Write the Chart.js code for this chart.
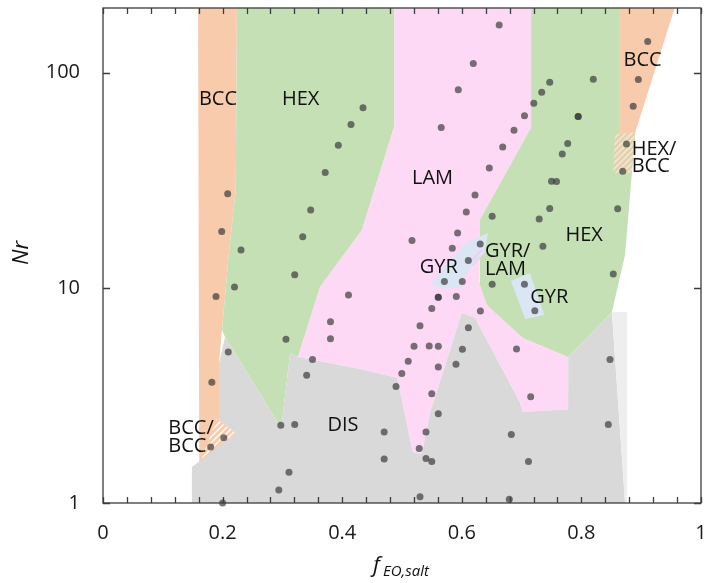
<!DOCTYPE html>
<html>
<head>
<meta charset="utf-8">
<script src="https://cdn.jsdelivr.net/npm/chart.js@4"></script>
<style>
  html, body { margin: 0; padding: 0; background: #fff; }
  #wrap { width: 705px; height: 583px; }
</style>
</head>
<body>
<div id="wrap"><canvas id="phase" width="705" height="583"></canvas></div>
<script>
// Phase regions, corners as [f_EO,salt, Nr]
const bccLeft = [[0.159,200],[0.224,200],[0.222,28.6],[0.211,15.0],[0.199,6.37],[0.194,4.47],[0.194,2.45],[0.222,2.11],[0.164,1.55],[0.161,1.55]];
const hexLeft = [[0.224,200],[0.487,200],[0.487,56.2],[0.433,18.6],[0.363,10.1],[0.326,4.77],[0.313,4.98],[0.298,2.23],[0.204,5.91],[0.199,6.37],[0.211,15.0],[0.222,28.6]];
const lam = [[0.487,200],[0.716,200],[0.716,55.6],[0.630,20.7],[0.629,10.55],[0.642,8.33],[0.702,5.85],[0.778,4.77],[0.779,2.73],[0.702,2.65],[0.697,2.94],[0.622,7.25],[0.600,7.65],[0.547,2.62],[0.533,1.69],[0.518,1.72],[0.492,3.81],[0.430,4.20],[0.326,4.77],[0.363,10.1],[0.433,18.6],[0.487,56.2]];
const hexRight = [[0.716,200],[0.863,200],[0.863,51.6],[0.890,52.7],[0.873,14.2],[0.851,7.73],[0.778,4.77],[0.702,5.85],[0.642,8.33],[0.629,10.55],[0.630,20.7],[0.716,55.6]];
const bccRight = [[0.863,200],[0.956,200],[0.890,52.7],[0.863,51.6]];
const dis = [[0.1487,1],[0.1487,1.47],[0.222,2.11],[0.194,2.45],[0.194,4.47],[0.204,5.91],[0.298,2.23],[0.313,4.98],[0.326,4.77],[0.430,4.20],[0.492,3.81],[0.518,1.72],[0.533,1.69],[0.547,2.62],[0.600,7.65],[0.622,7.25],[0.697,2.94],[0.702,2.65],[0.779,2.73],[0.778,4.77],[0.851,7.73],[0.873,1]];
const disEdge = [[0.851,7.73],[0.876,7.73],[0.876,1],[0.873,1]];
const hexBcc = [[0.856,51.6],[0.890,52.7],[0.884,34.3],[0.853,34.3]];
const bccBcc = [[0.190,2.45],[0.222,2.12],[0.165,1.61]];
const gyrLeft = [[0.550,10.5],[0.580,13.5],[0.608,16.2],[0.644,18.0],[0.639,15.0],[0.622,13.0],[0.600,10.9],[0.600,9.97],[0.564,9.97]];
const gyrLam = [[0.610,13.1],[0.632,15.2],[0.641,14.7],[0.619,12.7]];
const gyrRight = [[0.682,10.8],[0.714,11.7],[0.738,7.48],[0.706,7.17]];

// Samples [f_EO,salt, Nr]
const samples = [
  [0.2085,27.4],[0.1985,18.3],[0.189,9.13],[0.182,3.64],[0.180,1.82],[0.2308,15.0],[0.2199,10.1],[0.2095,5.03],
  [0.4348,68.7],[0.4147,57.4],[0.3935,46.0],[0.3716,34.4],[0.3473,23.0],[0.334,17.3],[0.3206,11.5],[0.306,5.77],
  [0.2973,2.30],[0.3206,2.32],[0.311,1.39],[0.294,1.15],[0.202,2.01],[0.200,1.0],
  [0.4105,9.26],[0.3804,6.96],[0.3804,5.80],[0.3503,4.65],[0.3406,3.92],
  [0.6625,166.6],[0.6192,110.5],[0.5941,83.3],[0.5656,55.6],[0.6873,54.0],[0.6684,45.2],[0.646,36.1],[0.6221,27.0],
  [0.6075,22.5],[0.6508,21.5],[0.593,18.0],[0.5167,16.6],[0.5841,15.3],[0.6308,16.0],[0.6109,13.4],[0.5709,10.7],
  [0.6008,10.7],[0.6508,10.4],[0.7048,10.4],[0.5607,9.05],[0.5607,9.05],[0.5908,9.11],[0.5498,8.02],[0.6311,7.80],
  [0.7221,7.83],[0.5301,6.67],[0.611,6.52],[0.5201,5.36],[0.5455,5.37],[0.5607,5.36],[0.601,5.18],[0.6915,5.20],
  [0.5104,4.56],[0.5607,4.29],[0.5903,4.41],[0.4997,4.00],[0.49,3.48],[0.5498,3.22],[0.7152,3.12],[0.5607,2.60],
  [0.4702,2.14],[0.5401,2.14],[0.6828,2.08],[0.5288,1.79],[0.4702,1.60],[0.5401,1.61],[0.5498,1.56],[0.7115,1.56],
  [0.5301,1.07],[0.6794,1.04],[0.8478,4.65],[0.845,2.32],[0.8533,11.6],
  [0.8199,93.4],[0.747,90.4],[0.7336,81.1],[0.7204,72.2],[0.7048,63.2],[0.7946,62.6],[0.7946,62.6],[0.7771,46.9],
  [0.768,41.9],[0.75,31.3],[0.7584,31.2],[0.747,23.4],[0.7294,20.9],[0.8607,23.3],[0.7356,15.6],[0.8754,46.7],[0.8691,34.8],
  [0.9109,139.9],[0.8952,93.1],[0.8866,69.9]
];

// Phase names and where they sit [text, f, Nr, align]
const phaseLabels = [
  ['BCC', 0.1923, 75.1, 'center'], ['HEX', 0.3306, 75.0, 'center'], ['LAM', 0.551, 32.3, 'center'],
  ['GYR', 0.5615, 12.4, 'center'], ['GYR/', 0.6388, 14.8, 'left'], ['LAM', 0.6388, 12.2, 'left'],
  ['GYR', 0.7463, 9.06, 'center'], ['HEX', 0.8047, 17.6, 'center'], ['BCC', 0.9022, 113.7, 'center'],
  ['HEX/', 0.8841, 44.3, 'left'], ['BCC', 0.8841, 36.7, 'left'], ['DIS', 0.4013, 2.30, 'center'],
  ['BCC/', 0.1092, 2.22, 'left'], ['BCC', 0.1092, 1.84, 'left']
];

const xTicks = [0, 0.2, 0.4, 0.6, 0.8, 1];
const yTicks = [1, 10, 100];

const canvas = document.getElementById('phase');
const mainCtx = canvas.getContext('2d');

function hatch(bg, fg, w) {
  const c = document.createElement('canvas');
  c.width = c.height = 6;
  const g = c.getContext('2d');
  g.fillStyle = bg;
  g.fillRect(0, 0, 6, 6);
  g.strokeStyle = fg;
  g.lineWidth = w;
  g.beginPath();
  g.moveTo(-1, 7); g.lineTo(7, -1);
  g.moveTo(-4, 4); g.lineTo(4, -4);
  g.moveTo(2, 10); g.lineTo(10, 2);
  g.stroke();
  return mainCtx.createPattern(c, 'repeat');
}

function region(pts, color, order) {
  return {
    data: pts.map(p => ({x: p[0], y: p[1]})),
    showLine: true,
    fill: 'shape',
    backgroundColor: color,
    borderWidth: 0,
    borderColor: 'rgba(0,0,0,0)',
    pointRadius: 0,
    tension: 0,
    order: order
  };
}

// drop the label overhang padding so the plot area sits where the reference has it
function noPad(s) {
  s.paddingTop = 0; s.paddingBottom = 0; s.paddingLeft = 0; s.paddingRight = 0;
}

const overlay = {
  id: 'overlay',
  afterDatasetsDraw(chart) {
    const {ctx, scales: {x, y}} = chart;
    ctx.save();
    ctx.fillStyle = '#111';
    ctx.font = '20px "Open Sans"';
    ctx.textBaseline = 'middle';
    phaseLabels.forEach(([t, fx, ny, al]) => {
      ctx.textAlign = al;
      ctx.fillText(t, x.getPixelForValue(fx), y.getPixelForValue(ny));
    });
    ctx.restore();
  },
  afterDraw(chart) {
    const {ctx, chartArea: a, scales: {x, y}} = chart;
    ctx.save();
    ctx.strokeStyle = '#3c3c3c';
    ctx.lineWidth = 1.3;
    ctx.strokeRect(a.left, a.top, a.right - a.left, a.bottom - a.top);
    ctx.beginPath();
    for (let i = 0; i <= 25; i++) {
      const px = Math.round(x.getPixelForValue(i * 0.04)) + 0.5;
      ctx.moveTo(px, a.bottom); ctx.lineTo(px, a.bottom - 6);
      ctx.moveTo(px, a.top); ctx.lineTo(px, a.top + 6);
    }
    yTicks.forEach(v => {
      const py = Math.round(y.getPixelForValue(v)) + 0.5;
      ctx.moveTo(a.left, py); ctx.lineTo(a.left + 7, py);
      ctx.moveTo(a.right, py); ctx.lineTo(a.right - 7, py);
    });
    ctx.stroke();

    // axis titles
    ctx.fillStyle = '#111';
    ctx.textBaseline = 'alphabetic';
    ctx.textAlign = 'left';
    ctx.font = 'italic 22px "Open Sans"';
    ctx.fillText('f', 373, 572);
    ctx.font = 'italic 15px "Open Sans"';
    ctx.fillText('EO,salt', 383, 576);
    ctx.translate(22, 253);
    ctx.rotate(-Math.PI / 2);
    ctx.textAlign = 'center';
    ctx.textBaseline = 'middle';
    ctx.font = 'italic 22px "Open Sans"';
    ctx.fillText('Nr', 0, 0);
    ctx.restore();
  }
};

new Chart(canvas, {
  type: 'scatter',
  data: {
    datasets: [
      {
        data: samples.map(p => ({x: p[0], y: p[1]})),
        pointRadius: 3.5,
        pointBorderWidth: 0,
        backgroundColor: 'rgba(55,55,55,0.68)',
        borderColor: 'rgba(0,0,0,0)',
        clip: false,
        order: 0
      },
      region(bccLeft, '#f8cbad', 20),
      region(hexLeft, '#c5e0b4', 19),
      region(lam, '#fdd9f6', 18),
      region(hexRight, '#c5e0b4', 17),
      region(bccRight, '#f8cbad', 16),
      region(dis, '#d9d9d9', 15),
      region(disEdge, '#eeeeee', 14),
      region(hexBcc, hatch('#dcebd0', '#f5c3a3', 1.6), 13),
      region(bccBcc, hatch('#f8cbad', '#ffffff', 1.4), 12),
      region(gyrLeft, '#dae6f3', 11),
      region(gyrLam, hatch('#dae6f3', '#f6c8ee', 1.5), 10),
      region(gyrRight, '#dae6f3', 9)
    ]
  },
  options: {
    responsive: false,
    animation: false,
    layout: { autoPadding: false, padding: { top: 8, right: 4, left: 0, bottom: 0 } },
    plugins: { legend: { display: false }, tooltip: { enabled: false } },
    scales: {
      x: {
        type: 'linear', min: 0, max: 1,
        grid: { display: false, drawTicks: false },
        border: { display: false },
        afterFit: s => { s.height = 80; noPad(s); },
        afterBuildTicks: s => { s.ticks = xTicks.map(v => ({value: v})); },
        ticks: {
          padding: 18,
          color: '#1a1a1a',
          font: { family: '"Open Sans"', size: 20 },
          maxRotation: 0,
          callback: v => String(Math.round(v * 10) / 10)
        }
      },
      y: {
        type: 'logarithmic', min: 1, max: 200,
        grid: { display: false, drawTicks: false },
        border: { display: false },
        afterFit: s => { s.width = 103; noPad(s); },
        afterBuildTicks: s => { s.ticks = yTicks.map(v => ({value: v})); },
        ticks: {
          padding: 23,
          color: '#1a1a1a',
          font: { family: '"Open Sans"', size: 20 },
          callback: v => String(v)
        }
      }
    }
  },
  plugins: [overlay]
});
</script>
</body>
</html>
